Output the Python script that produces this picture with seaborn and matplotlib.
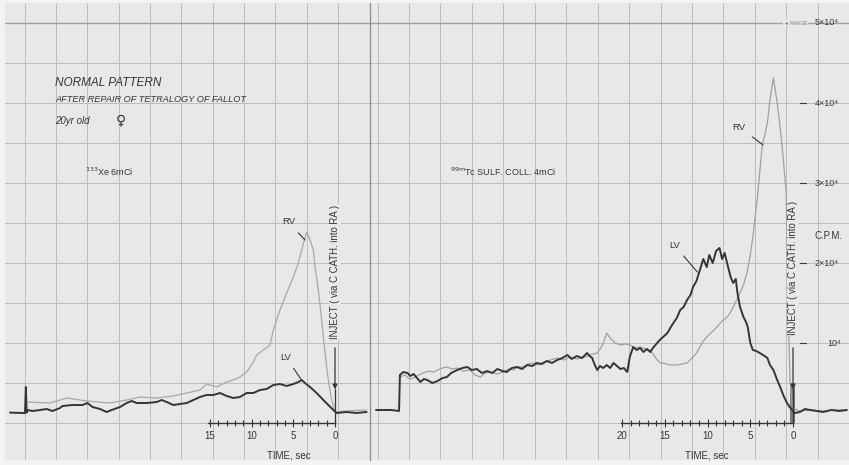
import numpy as np
import pandas as pd
import matplotlib.pyplot as plt
import seaborn as sns

# ---- data: time before injection (sec) vs counts (CPM) ----
# left strip: 133Xe
xe_lv_t = [39.0, 37.5, 37.2, 37.1, 37.0, 36.9, 36.3, 35.4, 34.6, 33.9, 33.0, 32.7, 31.5, 30.3,
           29.7, 29.1, 28.2, 27.4, 26.8, 25.8, 25.0, 24.4, 23.8, 22.6, 21.4, 20.8, 20.2, 19.4,
           18.6, 17.8, 17.0, 16.2, 15.4, 14.6, 13.8, 13.0, 12.2, 11.4, 10.6, 9.8, 9.0, 8.2,
           7.4, 6.6, 5.8, 5.0, 4.4, 4.0, 3.6, 3.0, 2.2, 1.4, 0.8, 0.2, -0.2, -1.4, -2.6, -3.8]
xe_lv_cpm = [1300, 1250, 1250, 4500, 1300, 1625, 1500, 1625, 1750, 1500, 1875, 2125, 2250, 2250,
             2500, 2000, 1750, 1375, 1625, 2000, 2500, 2750, 2500, 2500, 2625, 2875, 2625, 2250,
             2375, 2500, 2875, 3250, 3500, 3500, 3750, 3375, 3125, 3250, 3750, 3750, 4125, 4250,
             4750, 4875, 4625, 4875, 5125, 5375, 5000, 4500, 3750, 2875, 2250, 1625, 1250, 1375, 1250, 1375]

xe_rv_t = [36.9, 34.2, 32.2, 29.8, 27.0, 25.0, 23.4, 21.4, 19.4, 17.8, 16.2, 15.4, 14.2, 13.0,
           12.2, 11.4, 10.6, 9.8, 9.4, 8.6, 7.8, 7.4, 6.6, 5.8, 5.0, 4.4, 4.0, 3.6, 3.4, 3.0,
           2.6, 2.4, 2.0, 1.6, 1.2, 0.8, 0.4, 0.0, -1.2, -3.8]
xe_rv_cpm = [2625, 2500, 3125, 2750, 2500, 2875, 3250, 3125, 3375, 3750, 4125, 4875, 4500, 5125,
             5375, 5750, 6375, 7625, 8500, 9125, 9750, 11625, 14125, 16250, 18250, 20000, 21625,
             23125, 23875, 22875, 21625, 19500, 16625, 12875, 8750, 5375, 2875, 1375, 1500, 1625]

# right strip: 99mTc sulfur colloid
tc_lv_t = [48.8, 47.0, 46.1, 46.0, 45.6, 45.1, 44.8, 44.4, 44.0, 43.6, 43.2, 42.8, 42.2, 41.6,
           41.0, 40.5, 40.0, 39.3, 38.7, 38.1, 37.6, 37.0, 36.4, 35.8, 35.2, 34.6, 34.0, 33.5,
           32.9, 32.3, 31.7, 31.1, 30.5, 30.0, 29.4, 28.8, 28.2, 27.6, 27.0, 26.4, 25.9, 25.3,
           24.7, 24.1, 23.8, 23.5, 23.2, 22.9, 22.6, 22.2, 21.8, 21.4, 21.0, 20.6, 20.2, 19.8,
           19.4, 19.1, 18.7, 18.3, 17.9, 17.5, 17.1, 16.7, 16.4, 16.0, 15.6, 15.2, 14.7, 14.3,
           14.0, 13.6, 13.2, 12.8, 12.4, 12.0, 11.7, 11.3, 10.9, 10.5, 10.1, 9.8, 9.4, 9.0,
           8.6, 8.3, 8.0, 7.6, 7.3, 7.0, 6.7, 6.5, 6.2, 5.8, 5.5, 5.3, 5.0, 4.7, 4.3, 3.9,
           3.5, 3.0, 2.7, 2.3, 1.9, 1.5, 1.1, 0.7, 0.4, 0.1, -0.2, -0.8, -1.4, -2.0, -2.8,
           -3.5, -4.5, -5.4, -6.3]
tc_lv_cpm = [1625, 1625, 1500, 6000, 6375, 6250, 5875, 6125, 5625, 5125, 5500, 5375, 5000, 5250,
             5625, 5750, 6250, 6625, 6875, 7000, 6625, 6750, 6250, 6500, 6250, 6750, 6500, 6375,
             6875, 7000, 6750, 7250, 7125, 7500, 7375, 7750, 7500, 7875, 8125, 8500, 8000, 8375,
             8125, 8750, 8375, 8125, 7250, 6625, 7125, 6875, 7250, 6875, 7500, 7125, 6750, 6875,
             6375, 8250, 9500, 9125, 9375, 8875, 9250, 8875, 9375, 9875, 10375, 10750, 11250, 12000,
             12500, 13125, 14125, 14500, 15375, 16000, 17000, 17750, 19125, 20500, 19500, 21000, 20000, 21500,
             21875, 20500, 21250, 19500, 18250, 17500, 18000, 16250, 14500, 13250, 12625, 12000, 10000, 9125,
             9000, 8750, 8500, 8125, 7250, 6625, 5500, 4500, 3375, 2500, 2000, 1625, 1250, 1375, 1750,
             1625, 1500, 1375, 1625, 1500, 1625]

tc_rv_t = [46.0, 45.4, 44.9, 44.4, 43.8, 43.3, 42.6, 42.0, 41.6, 41.0, 40.5, 39.9, 39.3, 38.6,
           37.8, 37.2, 36.6, 36.0, 35.4, 34.7, 33.9, 33.3, 32.7, 32.2, 31.6, 31.0, 30.4, 29.8,
           29.2, 28.4, 27.6, 26.8, 26.1, 25.3, 24.6, 23.8, 22.9, 22.5, 22.2, 21.8, 21.4, 20.8,
           20.2, 19.6, 19.1, 18.5, 17.9, 17.3, 16.7, 16.3, 15.9, 15.5, 15.2, 14.4, 13.6, 13.0,
           12.4, 11.7, 11.3, 10.9, 10.5, 10.1, 9.5, 8.9, 8.3, 7.7, 7.3, 7.0, 6.6, 6.2, 5.8,
           5.4, 5.0, 4.7, 4.2, 3.9, 3.6, 3.3, 3.0, 2.7, 2.3, 1.9, 1.6, 1.2, 0.8, 0.6, 0.35,
           0.1, -0.8, -2.0, -3.5, -5.0, -6.3]
tc_rv_cpm = [5750, 6000, 5500, 5625, 6000, 6250, 6500, 6375, 6625, 6875, 7000, 6750, 6875, 6500,
             6625, 6000, 5750, 6250, 6375, 6125, 6375, 6750, 6625, 7000, 7000, 7375, 7500, 7250,
             7625, 7875, 8125, 7875, 8250, 8000, 8125, 8500, 8750, 9375, 10000, 11250, 10625, 10000,
             9750, 9875, 9750, 9375, 9500, 9250, 9125, 8500, 7875, 7500, 7500, 7250, 7250, 7375,
             7500, 8250, 8750, 9500, 10250, 10750, 11375, 12000, 12750, 13250, 13875, 14500, 15375, 16250, 17250,
             18750, 21000, 23250, 27875, 31250, 34750, 36000, 37500, 40375, 43125, 40375, 37875, 33750, 28750, 15375, 5375,
             1875, 1500, 1625, 1500, 1625, 1625]

cpm_ticks = [50000, 40000, 30000, 20000, 10000]
cpm_labels = ['5\u00d710\u2074', '4\u00d710\u2074', '3\u00d710\u2074', '2\u00d710\u2074', '10\u2074']

sns.set_style('white')
plt.rcParams['font.family'] = ['Liberation Sans', 'DejaVu Sans']

ink = '#353535'
paper = '#e8e8e6'
gridc = '#bcbcbc'

fig = plt.figure(figsize=(8.49, 4.65), dpi=100, facecolor='#f3f3f3')
bot = 5 / 465
hgt = 457 / 465
ax1 = fig.add_axes([5 / 849, bot, 365 / 849, hgt])
ax2 = fig.add_axes([370 / 849, bot, 479 / 849, hgt])

ax1.set_xlim(39.6, -4.2)
ax2.set_xlim(49.5, -6.55)

for ax, g0, gstep in [(ax1, -0.36, 3.76), (ax2, -2.9, 3.68)]:
    ax.set_facecolor(paper)
    ax.set_ylim(-4625, 52500)
    for gx in np.arange(g0, 52, gstep):
        ax.axvline(gx, color=gridc, lw=0.7, zorder=0)
    for gy in range(0, 50001, 5000):
        ax.axhline(gy, color='#a0a0a0' if gy == 50000 else gridc,
                   lw=1.0 if gy == 50000 else 0.7, zorder=0)
    for s in ['top', 'right', 'left']:
        ax.spines[s].set_visible(False)
    ax.spines['bottom'].set_position(('data', 0))
    ax.spines['bottom'].set_color(ink)
    ax.spines['bottom'].set_linewidth(1.0)
    ax.set_yticks([])
    ax.tick_params(axis='x', which='both', bottom=True, direction='inout', colors=ink,
                   labelsize=7, pad=3, width=0.8)
    ax.tick_params(axis='x', which='major', length=6)
    ax.tick_params(axis='x', which='minor', length=4)

ax2.spines['left'].set_visible(True)
ax2.spines['left'].set_color('#8a8a8a')
ax2.spines['left'].set_linewidth(0.9)

ax1.spines['bottom'].set_bounds(0, 15.3)
ax1.set_xticks([0, 5, 10, 15])
ax1.set_xticks(np.arange(0, 16), minor=True)
ax2.spines['bottom'].set_bounds(0, 20.1)
ax2.set_xticks([0, 5, 10, 15, 20])
ax2.set_xticks(np.arange(0, 21), minor=True)

# traces
sns.lineplot(x=xe_rv_t, y=xe_rv_cpm, ax=ax1, color='#a8a8a8', lw=0.9, sort=False, estimator=None)
sns.lineplot(x=xe_lv_t, y=xe_lv_cpm, ax=ax1, color=ink, lw=1.4, sort=False, estimator=None)
sns.lineplot(x=tc_rv_t, y=tc_rv_cpm, ax=ax2, color='#a0a0a0', lw=0.9, sort=False, estimator=None)
sns.lineplot(x=tc_lv_t, y=tc_lv_cpm, ax=ax2, color=ink, lw=1.4, sort=False, estimator=None)

# left strip annotations
ax1.text(33.6, 42500, 'NORMAL PATTERN', style='italic', fontsize=8.5, color=ink, va='center')
ax1.text(33.6, 40500, 'AFTER REPAIR OF TETRALOGY OF FALLOT', style='italic', fontsize=6.6,
         color=ink, va='center')
ax1.text(33.6, 37750, '20yr old', style='italic', fontsize=7, color=ink, va='center')
ax1.text(26.3, 37900, '\u2640', fontsize=10, color=ink, va='center', family='DejaVu Sans')
ax1.text(30.0, 31375, r'$^{133}$Xe 6mCi', fontsize=6.5, color=ink, va='center')
arr = dict(arrowstyle='-', color=ink, lw=0.8, shrinkA=3, shrinkB=0)
ax1.annotate('RV', xy=(3.6, 22875), xytext=(5.6, 25125), fontsize=6.8, color=ink,
             ha='center', va='center', arrowprops=arr)
ax1.annotate('LV', xy=(4.1, 5500), xytext=(5.9, 8250), fontsize=6.8, color=ink,
             ha='center', va='center', arrowprops=arr)
ax2.annotate('RV', xy=(3.5, 34750), xytext=(6.3, 37000), fontsize=6.8, color=ink,
             ha='center', va='center', arrowprops=arr)
ax2.annotate('LV', xy=(11.2, 18875), xytext=(13.9, 22250), fontsize=6.8, color=ink,
             ha='center', va='center', arrowprops=arr)
ax2.text(40.1, 31375, r'$^{99\mathrm{m}}$Tc SULF. COLL. 4mCi', fontsize=6.5, color=ink, va='center')

for ax, yc in [(ax1, 18875), (ax2, 19375)]:
    ax.text(0, yc, 'INJECT ( via C CATH. into RA )', rotation=90, fontsize=6.9, color=ink,
            ha='center', va='center', bbox=dict(fc=paper, ec='none', pad=0.5))
    ax.annotate('', xy=(0, 4200), xytext=(0, 9400),
                arrowprops=dict(arrowstyle='-|>', color=ink, lw=0.9, mutation_scale=7,
                                shrinkA=0, shrinkB=0))
    ax.plot([0, 0], [4200, 0], color=ink, lw=0.9)

ax2.fill_betweenx([0, 5000], 0.35, -0.2, color='#7a7a7a', lw=0)

ax1.text(5.6, -4000, 'TIME, sec', fontsize=7, color=ink, ha='center', va='center')
ax2.text(10.1, -4000, 'TIME, sec', fontsize=7, color=ink, ha='center', va='center')

# CPM scale at right edge
for v, lab in zip(cpm_ticks, cpm_labels):
    ax2.text(-2.57 if v > 10000 else -4.0, v, lab, fontsize=6.5, color=ink, va='center')
    if v < 50000:
        ax2.plot([-0.8, -1.5], [v, v], color=ink, lw=0.8)
ax2.text(-2.57, 23375, 'C.P.M.', fontsize=7, color=ink, va='center')
ax2.text(-0.3, 50000, '\u25c4 RANGE', fontsize=3.5, color='#777777', va='center', ha='center',
         bbox=dict(fc=paper, ec='none', pad=0.3))

fig.savefig('out.png', dpi=100, facecolor=fig.get_facecolor())
